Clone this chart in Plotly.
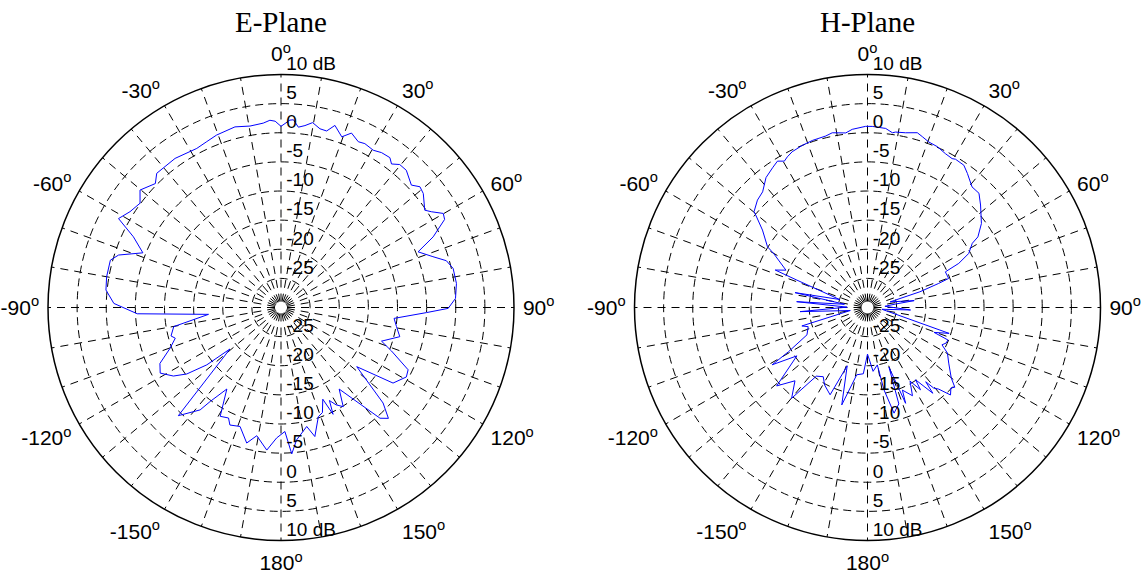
import plotly.graph_objects as go

# ---------------- data ----------------
E_theta = [-178.1, -174.3, -169.3, -165.8, -161.0, -156.5, -154.6, -150.8, -146.4, -143.0,
           -141.7, -136.5, -129.1, -127.7, -125.2, -122.5, -118.5, -114.8, -110.2, -106.2,
           -104.5, -100.1, -95.4, -92.5, -88.6, -84.3, -80.0, -74.5, -72.1, -68.4,
           -64.4, -61.3, -57.6, -53.5, -50.2, -45.4, -42.8, -35.4, -27.9, -24.1,
           -20.5, -14.3, -9.7, -5.5, -3.4, -1.8, 0.0, 2.7, 3.8, 5.5,
           7.5, 9.7, 12.3, 14.5, 16.5, 19.6, 22.0, 25.0, 27.1, 30.4,
           33.0, 36.0, 37.6, 39.7, 42.4, 46.8, 49.0, 51.3, 55.9, 57.5,
           59.9, 61.7, 65.1, 67.9, 71.5, 74.2, 77.2, 82.2, 87.0, 90.3,
           92.0, 95.5, 99.4, 103.8, 108.5, 111.5, 116.1, 119.0, 124.0, 128.0,
           133.1, 135.9, 138.2, 144.5, 147.9, 150.5, 152.5, 154.0, 155.5, 158.5,
           161.1, 165.3, 167.8, 173.3, 175.8, 178.2]
E_db = [-7.6, -5.4, -7.6, -6.0, -8.4, -8.0, -9.0, -8.6, -13.2, -9.8,
        -7.6, -4.4, -18.7, -13.9, -10.2, -8.1, -6.4, -7.1, -9.7, -11.1,
        -10.5, -11.3, -17.5, -5.3, -1.3, 0.2, 0.4, 0.4, -0.7, -4.5,
        -1.9, 1.8, 0.7, 0.1, 1.5, 0.3, 1.4, 1.4, 0.9, 1.2,
        1.6, 2.0, 1.6, 1.8, 2.2, 2.0, 1.1, 2.2, 2.3, 1.1,
        1.5, 2.2, 1.4, 1.3, 2.6, 1.1, 2.3, 1.4, 1.6, 1.3,
        1.7, 1.8, 1.1, 1.9, 1.9, 0.7, 1.6, 1.3, -0.2, 0.6,
        2.2, 1.9, -1.2, -4.6, -2.5, -0.5, 0.3, 0.4, 0.0, -1.3,
        -5.0, -10.5, -9.9, -9.0, -11.8, -9.6, -5.7, -5.4, -6.8, -13.5,
        -6.0, -3.5, -4.5, -12.8, -9.9, -10.8, -12.0, -9.6, -12.7, -10.6,
        -10.2, -7.1, -9.1, -7.1, -4.8, -8.7]

H_theta = [-180.0, -176.4, -170.9, -165.2, -160.8, -156.8, -151.0, -147.4, -143.3, -140.1,
           -135.3, -130.8, -124.4, -121.0, -119.2, -114.3, -107.9, -105.7, -100.0, -93.5,
           -89.0, -85.3, -82.0, -78.4, -74.0, -68.8, -67.9, -65.4, -60.2, -58.7,
           -53.6, -50.4, -49.8, -45.7, -42.2, -38.0, -34.2, -31.6, -29.6, -28.0,
           -25.8, -21.9, -18.2, -13.7, -11.4, -7.1, -4.9, -0.6, 1.5, 5.8,
           8.1, 9.1, 12.3, 15.9, 17.8, 20.3, 23.5, 26.9, 29.6, 30.7,
           34.1, 36.7, 40.9, 44.3, 47.8, 53.6, 57.4, 58.5, 61.9, 64.2,
           65.4, 70.3, 71.3, 73.3, 76.0, 81.6, 82.9, 86.0, 93.3, 97.0,
           107.6, 110.5, 112.0, 114.4, 116.6, 119.7, 124.4, 130.1, 132.4, 134.0,
           136.5, 138.9, 140.6, 141.9, 142.7, 146.4, 147.2, 150.0, 153.0, 157.1,
           158.3, 160.2, 162.0, 165.9, 168.7, 170.3, 175.0]
H_db = [-22.0, -18.6, -18.3, -12.7, -19.4, -13.7, -14.8, -15.9, -15.3, -9.7,
        -12.3, -9.4, -15.3, -10.9, -14.5, -18.6, -19.3, -18.3, -27.0, -18.4,
        -26.5, -17.8, -26.0, -17.3, -25.0, -17.0, -12.9, -14.6, -11.5, -9.9,
        -7.6, -5.1, -4.5, -3.6, -3.2, -1.7, -1.0, -0.5, -1.1, -0.7,
        -0.3, 0.0, 0.2, 0.3, 0.6, 0.2, 0.7, 1.1, 1.1, 0.9,
        0.3, 0.5, 0.7, 1.2, 0.8, 0.3, 0.1, -0.4, -0.6, -0.4,
        -0.5, -1.3, -2.6, -2.6, -3.8, -5.7, -7.5, -8.9, -10.3, -12.6,
        -15.3, -15.2, -17.1, -20.6, -26.0, -21.9, -25.1, -27.0, -22.6, -27.5,
        -15.3, -17.8, -15.1, -15.2, -15.7, -14.2, -13.1, -11.2, -9.7, -10.1,
        -9.3, -11.4, -12.1, -13.8, -11.5, -15.1, -13.2, -15.4, -13.0, -14.6,
        -12.3, -19.1, -12.6, -11.3, -15.6, -20.0, -19.0]

angle_ticks = list(range(0, 360, 10))
angle_labels = {0: "0", 30: "30", 60: "60", 90: "90", 120: "120", 150: "150",
                180: "180", 210: "-150", 240: "-120", 270: "-90", 300: "-60", 330: "-30"}
ring_vals = [-25, -20, -15, -10, -5, 0, 5, 10]
ring_labels = ["-25", "-20", "-15", "-10", "-5", "0", "5", "10 dB"]
r_range = [-30, 10]
titles = ["E-Plane", "H-Plane"]

# ---------------- figure ----------------
W, H = 1146, 581
R = 233
centers = [(281, 307.5), (867.5, 307.5)]

fig = go.Figure()

ticktext = [angle_labels[a] + "<sup>o</sup>" if a in angle_labels else "" for a in angle_ticks]
ring_dash = "8px,5px"
spoke_dash = "0px,6px,8px,0px"
font_sans = "Liberation Sans, Arial, sans-serif"

for i, (th, db) in enumerate([(E_theta, E_db), (H_theta, H_db)]):
    pname = "polar" if i == 0 else "polar2"
    sub = pname
    cx, cy = centers[i]
    fig.add_trace(go.Scatterpolar(
        r=db + [db[0]], theta=th + [th[0]], mode="lines",
        line=dict(color="#0000FF", width=1), subplot=sub, hoverinfo="skip"))
    for ang in (0, 180):
        fig.add_trace(go.Scatterpolar(
            r=ring_vals, theta=[ang] * len(ring_vals), mode="text",
            text=["\u00a0" + t for t in ring_labels], textposition="top right",
            cliponaxis=False,
            textfont=dict(family=font_sans, size=19, color="black"),
            subplot=sub, hoverinfo="skip"))
    dom_x = [(cx - R) / W, (cx + R) / W]
    dom_y = [(H - cy - R) / H, (H - cy + R) / H]
    fig.update_layout(**{pname: dict(
        domain=dict(x=dom_x, y=dom_y),
        bgcolor="white",
        angularaxis=dict(
            rotation=90, direction="clockwise", tickmode="array",
            tickvals=angle_ticks, ticktext=ticktext,
            ticks="outside", ticklen=4, tickcolor="rgba(0,0,0,0)",
            showgrid=True, gridcolor="black", gridwidth=1, griddash=spoke_dash,
            showline=True, linecolor="black", linewidth=1.5,
            tickfont=dict(family=font_sans, size=21, color="black")),
        radialaxis=dict(
            range=r_range, tickmode="array", tickvals=ring_vals[:-1],
            showticklabels=False, ticks="", showline=False,
            showgrid=True, gridcolor="black", gridwidth=1, griddash=ring_dash,
            angle=90),
    )})
    fig.add_annotation(
        text=titles[i], xref="paper", yref="paper",
        x=cx / W, y=(H - 22) / H, xanchor="center", yanchor="middle",
        showarrow=False, font=dict(family="Liberation Serif, serif", size=29, color="black"))

fig.update_layout(width=W, height=H, margin=dict(l=0, r=0, t=0, b=0),
                  paper_bgcolor="white", plot_bgcolor="white", showlegend=False)

fig.write_html("out.html")
